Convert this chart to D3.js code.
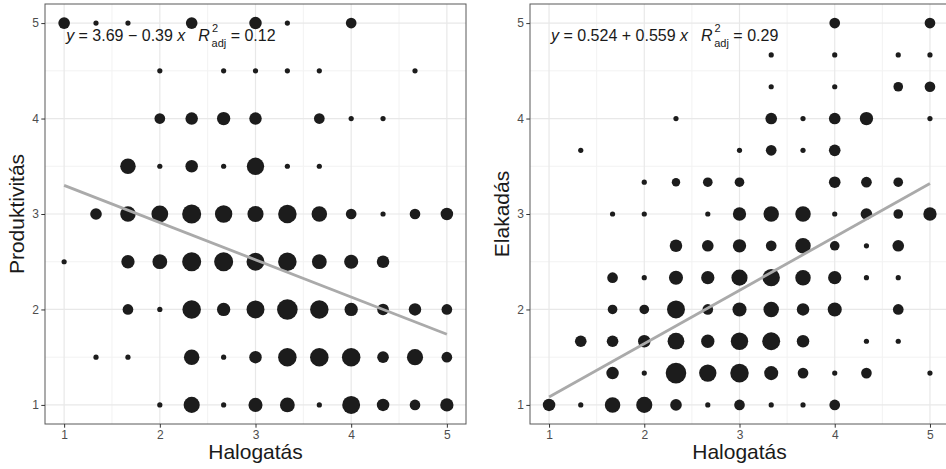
<!DOCTYPE html>
<html><head><meta charset="utf-8">
<script src="https://cdn.jsdelivr.net/npm/d3@7"></script>
<style>body{margin:0;background:#fff}svg{display:block}text{font-family:"Liberation Sans",Arial,sans-serif}</style>
</head><body><svg id="c" width="946" height="469"></svg>
<script>
// ---------- data ----------
const ticks = [1, 2, 3, 4, 5];
const minorTicks = [1.5, 2.5, 3.5, 4.5];
const xTitle = "Halogatás";
const yTitles = ["Produktivitás", "Elakadás"];
const fitIntercept = [3.69, 0.524];
const fitSlope = [-0.39, 0.559];
const fitText = ["3.69 \u2212 0.39", "0.524 + 0.559"];
const fitR2 = ["0.12", "0.29"];

// Left panel: Halogatás (x) vs Produktivitás (y), n = number of respondents
const prodX = [
  1,1.333,1.667,2.333,3,3.333,4,                              // y=5
  2,2.667,3,3.333,3.667,4.667,                                // y=4.5
  2,2.333,2.667,3,3.667,4,4.333,                              // y=4
  1.667,2,2.333,2.667,3,3.333,3.667,                          // y=3.5
  1.333,1.667,2,2.333,2.667,3,3.333,3.667,4,4.333,4.667,5,    // y=3
  1,1.667,2,2.333,2.667,3,3.333,3.667,4,4.333,                // y=2.5
  1.667,2,2.333,2.667,3,3.333,3.667,4,4.333,4.667,5,          // y=2
  1.333,1.667,2.333,2.667,3,3.333,3.667,4,4.333,4.667,5,      // y=1.5
  2,2.333,2.667,3,3.333,3.667,4,4.333,4.667,5                 // y=1
];
const prodY = [
  5,5,5,5,5,5,5,
  4.5,4.5,4.5,4.5,4.5,4.5,
  4,4,4,4,4,4,4,
  3.5,3.5,3.5,3.5,3.5,3.5,3.5,
  3,3,3,3,3,3,3,3,3,3,3,3,
  2.5,2.5,2.5,2.5,2.5,2.5,2.5,2.5,2.5,2.5,
  2,2,2,2,2,2,2,2,2,2,2,
  1.5,1.5,1.5,1.5,1.5,1.5,1.5,1.5,1.5,1.5,1.5,
  1,1,1,1,1,1,1,1,1,1
];
const prodN = [
  6,1,1,6,7,1,5,
  1,1,1,1,1,1,
  5,7,8,7,5,1,1,
  11,1,7,1,14,1,1,
  6,11,13,17,14,12,16,11,5,1,5,7,
  1,8,10,17,17,15,16,10,9,7,
  5,1,16,8,15,20,16,8,6,7,5,
  1,1,11,1,7,16,16,16,6,12,5,
  1,12,1,9,10,1,15,7,5,8
];

// Right panel: Halogatás (x) vs Elakadás (y)
const elakX = [
  4,5,                                                  // y=5
  3.333,4,4.667,5,                                      // y=4.667
  3.333,4,4.667,5,                                      // y=4.333
  2.333,3.333,3.667,4,4.333,5,                          // y=4
  1.333,3,3.333,3.667,4,                                // y=3.667
  2,2.333,2.667,3,4,4.333,4.667,                        // y=3.333
  1.667,2,2.667,3,3.333,3.667,4,4.333,4.667,5,          // y=3
  2.333,2.667,3,3.333,3.667,4,4.333,4.667,              // y=2.667
  1.667,2,2.333,2.667,3,3.333,3.667,4,4.333,4.667,      // y=2.333
  1.667,2,2.333,2.667,3,3.333,3.667,4,4.667,            // y=2
  1.333,1.667,2,2.333,2.667,3,3.333,3.667,4.333,4.667,  // y=1.667
  1.667,2,2.333,2.667,3,3.333,3.667,4,4.333,5,          // y=1.333
  1,1.333,1.667,2,2.333,2.667,3,3.333,3.667,4           // y=1
];
const elakY = [
  5,5,
  4.667,4.667,4.667,4.667,
  4.333,4.333,4.333,4.333,
  4,4,4,4,4,4,
  3.667,3.667,3.667,3.667,3.667,
  3.333,3.333,3.333,3.333,3.333,3.333,3.333,
  3,3,3,3,3,3,3,3,3,3,
  2.667,2.667,2.667,2.667,2.667,2.667,2.667,2.667,
  2.333,2.333,2.333,2.333,2.333,2.333,2.333,2.333,2.333,2.333,
  2,2,2,2,2,2,2,2,2,
  1.667,1.667,1.667,1.667,1.667,1.667,1.667,1.667,1.667,1.667,
  1.333,1.333,1.333,1.333,1.333,1.333,1.333,1.333,1.333,1.333,
  1,1,1,1,1,1,1,1,1,1
];
const elakN = [
  5,5,
  1,1,1,1,
  1,1,4,5,
  1,6,1,6,8,1,
  1,1,5,1,6,
  1,3,4,4,6,5,4,
  1,1,1,8,11,11,1,6,4,8,
  7,6,8,5,11,4,1,6,
  5,1,9,8,12,14,11,8,1,1,
  4,4,15,5,9,11,7,9,5,
  6,6,7,13,8,14,15,7,1,1,
  7,1,20,14,16,9,5,1,5,1,
  7,1,11,12,6,1,5,1,1,5
];

// ---------- drawing ----------
const svg = d3.select("#c");
const FONT = '"Liberation Sans",Arial,sans-serif';
const rScale = d3.scaleSqrt().domain([1, 20]).range([2.6, 10.3]);

const panels = [
  {x0: 45, x1: 466, xs: prodX, ys: prodY, ns: prodN},
  {x0: 530, x1: 949, xs: elakX, ys: elakY, ns: elakN}
];
const pTop = 4, pBottom = 424;

panels.forEach((p, i) => {
  const x = d3.scaleLinear().domain([0.8, 5.2]).range([p.x0, p.x1]);
  const y = d3.scaleLinear().domain([0.8, 5.2]).range([pBottom, pTop]);
  const g = svg.append("g");

  // grid
  g.append("g").selectAll("line").data(minorTicks).join("line")
    .attr("x1", d => x(d)).attr("x2", d => x(d)).attr("y1", pTop).attr("y2", pBottom)
    .attr("stroke", "#f2f2f2").attr("stroke-width", 1);
  g.append("g").selectAll("line").data(minorTicks).join("line")
    .attr("y1", d => y(d)).attr("y2", d => y(d)).attr("x1", p.x0).attr("x2", p.x1)
    .attr("stroke", "#f2f2f2").attr("stroke-width", 1);
  g.append("g").selectAll("line").data(ticks).join("line")
    .attr("x1", d => x(d)).attr("x2", d => x(d)).attr("y1", pTop).attr("y2", pBottom)
    .attr("stroke", "#e8e8e8").attr("stroke-width", 1.2);
  g.append("g").selectAll("line").data(ticks).join("line")
    .attr("y1", d => y(d)).attr("y2", d => y(d)).attr("x1", p.x0).attr("x2", p.x1)
    .attr("stroke", "#e8e8e8").attr("stroke-width", 1.2);

  // points
  const pts = p.xs.map((d, k) => ({x: d, y: p.ys[k], n: p.ns[k]}));
  g.append("g").selectAll("circle").data(pts).join("circle")
    .attr("cx", d => x(d.x)).attr("cy", d => y(d.y)).attr("r", d => rScale(d.n))
    .attr("fill", "#1c1c1c");

  // regression line
  const a = fitIntercept[i], b = fitSlope[i];
  g.append("line")
    .attr("x1", x(1)).attr("y1", y(a + b * 1))
    .attr("x2", x(5)).attr("y2", y(a + b * 5))
    .attr("stroke", "#aaaaaa").attr("stroke-width", 2.8);

  // border
  g.append("rect").attr("x", p.x0).attr("y", pTop).attr("width", p.x1 - p.x0).attr("height", pBottom - pTop)
    .attr("fill", "none").attr("stroke", "#595959").attr("stroke-width", 1);

  // axes
  const ax = g.append("g").attr("transform", `translate(0,${pBottom})`)
    .call(d3.axisBottom(x).tickValues(ticks).tickSize(3.7).tickPadding(2.5).tickFormat(d3.format("d")));
  const ay = g.append("g").attr("transform", `translate(${p.x0},0)`)
    .call(d3.axisLeft(y).tickValues(ticks).tickSize(3.7).tickPadding(2.5).tickFormat(d3.format("d")));
  [ax, ay].forEach(a2 => {
    a2.select(".domain").remove();
    a2.selectAll(".tick line").attr("stroke", "#333");
    a2.selectAll(".tick text").attr("fill", "#4d4d4d").style("font-size", "12px").style("font-family", FONT);
  });

  // titles
  g.append("text").attr("x", (p.x0 + p.x1) / 2).attr("y", 459).attr("text-anchor", "middle")
    .style("font-size", "21px").attr("fill", "#1a1a1a").text(xTitle);
  g.append("text").attr("transform", `translate(${p.x0 - 21},${(pTop + pBottom) / 2}) rotate(-90)`)
    .attr("text-anchor", "middle").style("font-size", "21px").attr("fill", "#1a1a1a").text(yTitles[i]);

  // equation annotation
  const t = g.append("text").attr("x", x(1) + 2).attr("y", y(5) + 18)
    .style("font-size", "16px").attr("fill", "#1a1a1a");
  t.append("tspan").style("font-style", "italic").text("y");
  t.append("tspan").text(" = " + fitText[i] + " ");
  t.append("tspan").style("font-style", "italic").text("x");
  t.append("tspan").attr("dx", 13).style("font-style", "italic").text("R");
  t.append("tspan").attr("dx", 2).attr("dy", -9).style("font-size", "11px").text("2");
  t.append("tspan").attr("dx", -6.5).attr("dy", 15).style("font-size", "11px").text("adj");
  t.append("tspan").attr("dy", -6).text(" = " + fitR2[i]);
});
</script></body></html>
